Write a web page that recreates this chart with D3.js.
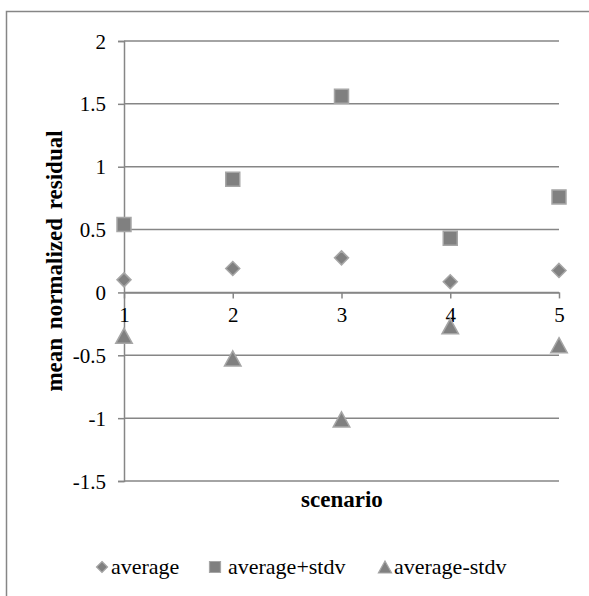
<!DOCTYPE html>
<html>
<head>
<meta charset="utf-8">
<script src="https://cdn.jsdelivr.net/npm/d3@7"></script>
<style>
  body { margin: 0; background: #fff; }
  text { font-family: "Liberation Serif", "Times New Roman", serif; fill: #000; }
</style>
</head>
<body>
<svg id="chart" width="589" height="596"></svg>
<script>
var scenarios = [1, 2, 3, 4, 5];
var average = [0.10, 0.19, 0.275, 0.085, 0.175];
var averagePlusStdv = [0.54, 0.90, 1.56, 0.43, 0.76];
var averageMinusStdv = [-0.345, -0.525, -1.01, -0.27, -0.42];
var yTicks = [-1.5, -1, -0.5, 0, 0.5, 1, 1.5, 2];
var seriesNames = ["average", "average+stdv", "average-stdv"];

var serif = '"Liberation Serif", "Times New Roman", serif';
var gray = "#868686";
var markFill = "#808080";
var markStroke = "#a6a6a6";

var svg = d3.select("#chart");

// outer chart border (right and bottom fall outside the picture)
svg.append("rect")
    .attr("x", 6.5).attr("y", 11.5)
    .attr("width", 620).attr("height", 620)
    .attr("fill", "none")
    .attr("stroke", gray)
    .attr("stroke-width", 1.5);

var x = d3.scalePoint().domain(scenarios).range([124, 559]);
var y = d3.scaleLinear().domain([-1.5, 2]).range([481, 41]);

// horizontal gridlines
svg.append("g").selectAll("line")
    .data(yTicks)
    .enter()
    .append("line")
    .attr("x1", x(1)).attr("x2", x(5))
    .attr("y1", function (d) { return y(d); })
    .attr("y2", function (d) { return y(d); })
    .attr("stroke", gray)
    .attr("stroke-width", 1.5);

// y axis
var yAxis = svg.append("g")
    .attr("transform", "translate(" + x(1) + ",0)")
    .call(d3.axisLeft(y).tickValues(yTicks).tickSize(6).tickPadding(12)
        .tickFormat(function (d) { return String(d); }));
yAxis.attr("font-family", null).attr("font-size", null);
yAxis.select(".domain").attr("stroke", gray).attr("stroke-width", 1.5);
yAxis.selectAll(".tick line").attr("stroke", gray).attr("stroke-width", 1.5);
yAxis.selectAll(".tick text")
    .style("font-family", serif)
    .style("font-size", "21px")
    .attr("dy", "0.34em");

// x axis at zero
var xAxis = svg.append("g")
    .attr("transform", "translate(0," + y(0) + ")")
    .call(d3.axisBottom(x).tickSize(6).tickSizeOuter(0).tickPadding(9));
xAxis.attr("font-family", null).attr("font-size", null);
xAxis.select(".domain").attr("stroke", gray).attr("stroke-width", 1.5);
xAxis.selectAll(".tick line").attr("stroke", gray).attr("stroke-width", 1.5);
xAxis.selectAll(".tick text")
    .style("font-family", serif)
    .style("font-size", "21px")
    .attr("dy", "0.71em");

// marker shapes
function markerPath(type, s) {
    var h = s / 2;
    if (type === 0) return "M0," + (-h) + "L" + h + ",0L0," + h + "L" + (-h) + ",0Z";
    if (type === 1) return "M" + (-h) + "," + (-h) + "H" + h + "V" + h + "H" + (-h) + "Z";
    return "M0," + (-h) + "L" + (h * 1.1) + "," + h + "L" + (-h * 1.1) + "," + h + "Z";
}

var series = [average, averagePlusStdv, averageMinusStdv];
var sizes = [14, 14, 15];

series.forEach(function (vals, i) {
    svg.append("g").selectAll("path")
        .data(vals)
        .enter()
        .append("path")
        .attr("d", markerPath(i, sizes[i]))
        .attr("transform", function (d, j) {
            return "translate(" + x(scenarios[j]) + "," + y(d) + ")";
        })
        .attr("fill", markFill)
        .attr("stroke", markStroke)
        .attr("stroke-width", 1.5);
});

// axis titles
svg.append("text")
    .attr("transform", "translate(62,261) rotate(-90)")
    .attr("text-anchor", "middle")
    .style("font-size", "23px")
    .style("font-weight", "bold")
    .style("word-spacing", "3px")
    .text("mean normalized residual");

svg.append("text")
    .attr("x", 342).attr("y", 507)
    .attr("text-anchor", "middle")
    .style("font-size", "23px")
    .style("font-weight", "bold")
    .text("scenario");

// legend
var legendX = [102, 215, 385];
var legend = svg.append("g").selectAll("g")
    .data(seriesNames)
    .enter()
    .append("g")
    .attr("transform", function (d, i) { return "translate(" + legendX[i] + ",567)"; });

legend.append("path")
    .attr("d", function (d, i) { return markerPath(i, i === 2 ? 12 : 11); })
    .attr("fill", markFill)
    .attr("stroke", markStroke)
    .attr("stroke-width", 1.2);

legend.append("text")
    .attr("x", function (d, i) { return i === 1 ? 13 : 9; })
    .attr("y", 7)
    .style("font-size", "22px")
    .text(String);
</script>
</body>
</html>
